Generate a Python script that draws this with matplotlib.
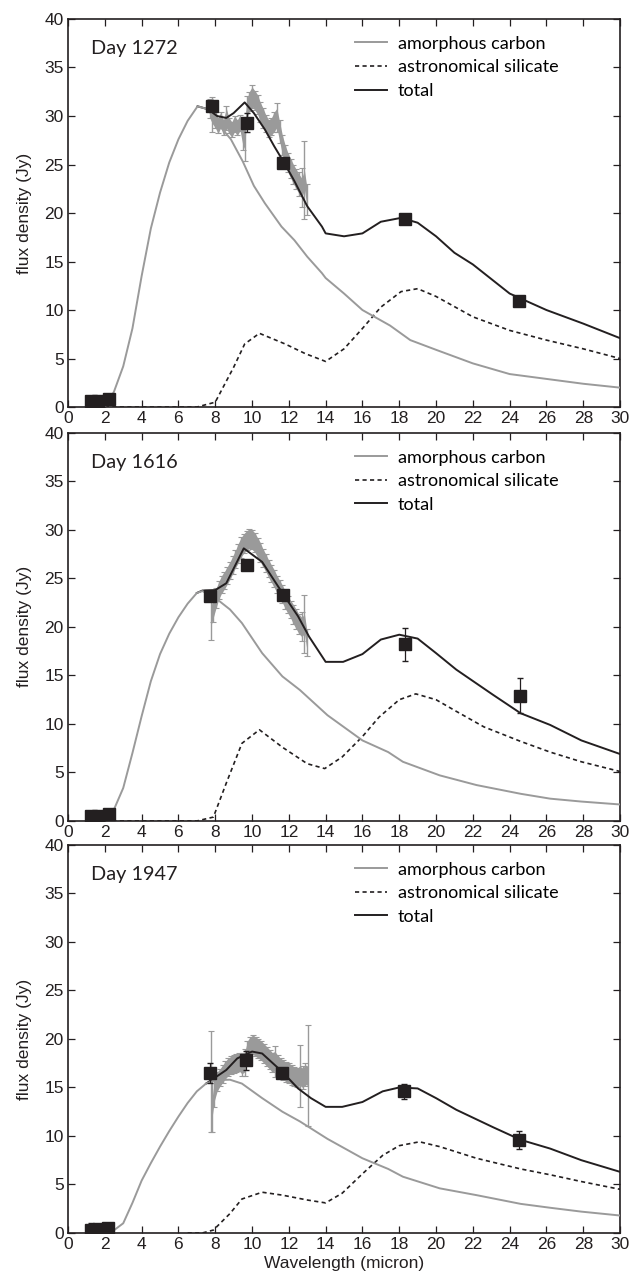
import numpy as np
import matplotlib
matplotlib.use("Agg")
import matplotlib.pyplot as plt

plt.rcParams['font.family'] = ['Liberation Sans', 'DejaVu Sans']

days = ["Day 1272", "Day 1616", "Day 1947"]

# model curves: amorphous carbon
carbon_x = [
    [1.8, 2.1, 2.5, 3.0, 3.5, 4.0, 4.5, 5.0, 5.5, 6.0, 6.5, 7.04, 7.6, 8.1, 8.85, 9.5, 10.1, 10.7, 11.6, 12.3, 13.0, 13.8, 14.0, 15.0, 16.0, 17.5, 18.6, 20.0, 22.0, 24.0, 26.0, 28.0, 30.0],
    [1.8, 2.0, 2.5, 3.0, 3.5, 4.0, 4.5, 5.0, 5.5, 6.0, 6.5, 7.0, 7.3, 7.7, 8.0, 8.8, 9.45, 10.55, 11.65, 12.6, 14.1, 16.0, 17.4, 18.2, 20.2, 22.2, 24.6, 26.2, 27.9, 30.0],
    [2.3, 3.0, 3.5, 4.0, 4.5, 5.0, 5.5, 6.0, 6.5, 7.0, 7.5, 8.0, 8.8, 9.45, 10.55, 11.65, 12.6, 14.1, 16.0, 17.4, 18.2, 20.2, 22.2, 24.6, 26.2, 27.9, 30.0],
]
carbon_y = [
    [0.0, 0.2, 1.6, 4.2, 8.1, 13.5, 18.4, 22.1, 25.2, 27.6, 29.5, 31.0, 30.7, 29.3, 27.6, 25.3, 22.8, 21.0, 18.6, 17.2, 15.5, 13.8, 13.3, 11.7, 10.0, 8.4, 6.9, 5.9, 4.5, 3.4, 2.9, 2.4, 2.0],
    [0.0, 0.1, 1.2, 3.4, 7.0, 10.8, 14.4, 17.2, 19.3, 21.0, 22.4, 23.5, 23.7, 23.3, 23.0, 21.8, 20.4, 17.3, 14.9, 13.5, 10.9, 8.3, 7.1, 6.1, 4.7, 3.7, 2.8, 2.3, 2.0, 1.7],
    [0.0, 1.0, 3.1, 5.4, 7.2, 8.9, 10.5, 12.0, 13.4, 14.6, 15.4, 15.75, 15.8, 15.4, 13.9, 12.5, 11.5, 9.7, 7.7, 6.6, 5.8, 4.6, 3.9, 3.0, 2.6, 2.2, 1.8],
]

# astronomical silicate
silicate_x = [
    [2.0, 7.0, 8.0, 9.0, 9.6, 10.4, 11.8, 12.9, 14.0, 15.0, 16.0, 17.0, 18.1, 19.0, 20.0, 22.0, 24.0, 26.0, 28.0, 30.0],
    [2.0, 7.0, 7.9, 8.6, 9.45, 10.4, 11.65, 13.0, 13.95, 14.9, 16.0, 16.9, 18.0, 18.9, 20.0, 21.1, 22.6, 24.6, 26.2, 27.9, 30.0],
    [6.5, 7.3, 7.9, 8.8, 9.45, 10.55, 11.65, 13.0, 14.0, 14.9, 16.0, 17.1, 18.0, 19.1, 20.2, 22.2, 24.6, 26.2, 27.9, 30.0],
]
silicate_y = [
    [0.0, 0.0, 0.5, 4.1, 6.5, 7.6, 6.5, 5.5, 4.7, 6.0, 8.1, 10.3, 11.9, 12.2, 11.4, 9.3, 7.9, 6.9, 6.0, 5.0],
    [0.0, 0.0, 0.4, 3.9, 8.0, 9.4, 7.6, 5.9, 5.4, 6.6, 8.7, 10.7, 12.5, 13.1, 12.5, 11.3, 9.7, 8.2, 7.1, 6.1, 5.1],
    [0.0, 0.0, 0.3, 2.0, 3.5, 4.2, 3.9, 3.4, 3.1, 4.1, 6.1, 8.0, 9.0, 9.4, 8.9, 7.7, 6.6, 6.0, 5.3, 4.5],
]

# total
total_x = [
    [7.04, 7.6, 8.1, 8.6, 9.0, 9.6, 10.1, 10.7, 11.2, 11.8, 12.3, 13.0, 13.8, 14.0, 15.0, 16.0, 17.0, 18.1, 19.0, 20.0, 21.0, 22.0, 24.0, 26.0, 28.0, 30.0],
    [7.0, 7.3, 8.0, 8.6, 9.55, 10.55, 11.65, 12.5, 13.1, 14.0, 14.95, 16.0, 17.0, 18.0, 19.0, 20.0, 21.1, 23.1, 24.6, 26.2, 27.9, 30.0],
    [7.5, 7.9, 8.6, 9.2, 10.0, 10.55, 11.65, 12.5, 13.2, 14.0, 14.9, 16.0, 17.1, 18.0, 19.0, 20.0, 21.1, 23.1, 24.6, 26.2, 27.9, 30.0],
]
total_y = [
    [31.0, 30.7, 30.0, 29.8, 30.3, 31.4, 30.3, 28.6, 26.9, 25.0, 23.3, 20.7, 18.6, 17.9, 17.6, 17.9, 19.1, 19.5, 19.0, 17.6, 15.9, 14.7, 11.7, 10.0, 8.6, 7.1],
    [23.5, 23.75, 23.8, 24.5, 28.1, 26.7, 23.5, 21.1, 19.0, 16.4, 16.4, 17.2, 18.7, 19.2, 18.8, 17.3, 15.6, 13.0, 11.1, 9.9, 8.3, 6.9],
    [15.4, 15.9, 16.8, 18.0, 18.7, 18.5, 16.6, 14.9, 13.9, 13.0, 13.0, 13.5, 14.6, 15.0, 14.9, 13.9, 12.7, 10.9, 9.6, 8.7, 7.5, 6.3],
]

# photometry (black squares)
phot_x = [
    [1.25, 1.65, 2.2, 7.8, 9.7, 11.7, 18.3, 24.5],
    [1.25, 1.65, 2.2, 7.74, 9.7, 11.7, 18.3, 24.55],
    [1.25, 1.7, 2.15, 7.7, 9.67, 11.65, 18.24, 24.5],
]
phot_y = [
    [0.6, 0.6, 0.8, 31.0, 29.3, 25.2, 19.4, 10.9],
    [0.5, 0.5, 0.7, 23.2, 26.4, 23.3, 18.2, 12.9],
    [0.3, 0.4, 0.5, 16.5, 17.8, 16.5, 14.6, 9.6],
]
phot_err = [
    [0.2, 0.2, 0.2, 0.4, 1.0, 0.4, 0.5, 0.5],
    [0.2, 0.2, 0.2, 0.4, 0.5, 0.4, 1.7, 1.8],
    [0.7, 0.4, 0.4, 1.0, 1.0, 0.4, 0.8, 0.9],
]

# mid-IR spectrum (grey error bars)
spec_x = [
    [7.7, 7.85, 8.0, 8.15, 8.3, 8.45, 8.6, 8.75, 8.9, 9.05, 9.2, 9.35, 9.5, 9.6, 9.7, 9.85, 10.0, 10.15, 10.3, 10.45, 10.6, 10.75, 10.9, 11.05, 11.2, 11.35, 11.5, 11.65, 11.8, 11.95, 12.1, 12.25, 12.4, 12.55, 12.7, 12.85, 13.0],
    [7.75, 7.9, 8.05, 8.2, 8.35, 8.5, 8.65, 8.8, 8.95, 9.1, 9.25, 9.4, 9.55, 9.7, 9.85, 10.0, 10.15, 10.3, 10.45, 10.6, 10.75, 10.9, 11.05, 11.2, 11.35, 11.5, 11.65, 11.8, 11.95, 12.1, 12.25, 12.4, 12.55, 12.7, 12.85, 13.0],
    [7.75, 7.85, 7.95, 8.1, 8.25, 8.4, 8.55, 8.7, 8.85, 9.0, 9.15, 9.3, 9.45, 9.6, 9.75, 9.9, 10.05, 10.2, 10.35, 10.5, 10.65, 10.8, 10.95, 11.1, 11.25, 11.4, 11.55, 11.7, 11.85, 12.0, 12.15, 12.3, 12.45, 12.6, 12.75, 12.9, 13.05],
]
spec_y = [
    [30.8, 30.2, 29.8, 29.0, 29.6, 28.8, 29.8, 29.0, 28.6, 29.2, 28.8, 29.3, 28.0, 27.6, 30.6, 31.5, 32.0, 31.6, 31.2, 30.4, 29.8, 29.2, 28.7, 28.9, 29.4, 29.8, 28.4, 27.0, 26.0, 25.2, 24.6, 24.0, 23.5, 23.0, 22.6, 23.4, 21.4],
    [21.0, 22.0, 23.0, 23.8, 24.4, 24.8, 25.3, 25.8, 26.4, 27.0, 27.6, 28.2, 28.6, 28.9, 29.1, 29.0, 28.7, 28.2, 27.7, 27.1, 26.6, 26.0, 25.5, 25.0, 24.4, 23.9, 23.4, 22.8, 22.3, 21.8, 21.3, 20.8, 20.3, 20.0, 20.3, 18.4],
    [15.6, 13.2, 14.6, 15.6, 16.0, 16.4, 16.8, 17.1, 17.3, 17.4, 17.5, 17.6, 17.4, 17.6, 18.8, 19.2, 19.4, 19.2, 19.0, 18.8, 18.5, 18.2, 17.9, 17.6, 17.7, 17.3, 17.0, 16.8, 16.6, 16.5, 16.3, 16.1, 16.0, 16.2, 16.0, 16.3, 16.2],
]
spec_err = [
    [1.0, 1.8, 1.0, 0.8, 0.8, 0.8, 1.2, 0.8, 0.8, 0.8, 0.8, 0.8, 1.5, 2.2, 1.5, 1.0, 1.2, 1.0, 1.0, 1.0, 1.0, 0.9, 0.9, 0.9, 1.0, 1.5, 1.2, 1.0, 1.0, 1.0, 1.0, 1.0, 1.0, 1.2, 2.0, 4.0, 1.6],
    [2.3, 1.5, 1.0, 0.9, 0.9, 0.9, 0.9, 0.9, 0.9, 0.9, 1.0, 1.1, 1.0, 1.0, 1.0, 1.0, 1.0, 1.0, 1.0, 0.9, 0.9, 0.9, 0.9, 0.9, 0.9, 0.9, 0.9, 0.9, 0.9, 0.9, 1.0, 1.0, 1.0, 1.5, 3.0, 1.4],
    [5.2, 2.8, 1.6, 1.0, 0.9, 0.9, 0.9, 0.9, 0.9, 0.9, 0.9, 0.9, 1.2, 1.4, 1.0, 1.0, 1.0, 1.0, 1.0, 1.0, 1.0, 1.0, 1.0, 1.0, 1.6, 1.0, 1.0, 1.0, 1.0, 1.0, 1.0, 1.0, 1.0, 3.2, 1.2, 1.2, 5.2],
]

ink = '#231f20'
grey = '#9a9a9a'

fig = plt.figure(figsize=(6.34, 12.74), dpi=100)
bottoms = [0.6805, 0.3556, 0.0322]

for i in range(3):
    ax = fig.add_axes([0.1073, bottoms[i], 0.8707, 0.3046])

    sx = np.array(spec_x[i])
    sy = np.array(spec_y[i])
    se = np.array(spec_err[i])
    band = np.minimum(se, 1.0)
    ax.fill_between(sx, sy - band, sy + band, color=grey, lw=0, zorder=1)
    ax.errorbar(sx, sy, yerr=se, fmt='none', ecolor=grey,
                elinewidth=1.0, capsize=2.5, capthick=0.8, zorder=1)

    ax.plot(silicate_x[i], silicate_y[i], color=ink, lw=1.2, dashes=(2.5, 2),
            label='astronomical silicate', zorder=2)
    ax.plot(total_x[i], total_y[i], color=ink, lw=1.4, label='total', zorder=2)
    ax.plot(carbon_x[i], carbon_y[i], color=grey, lw=1.4, label='amorphous carbon', zorder=3)

    ax.errorbar(phot_x[i], phot_y[i], yerr=phot_err[i], fmt='s', color=ink, ms=8,
                ecolor=ink, elinewidth=0.9, capsize=2, zorder=4)

    ax.set_xlim(0, 30)
    ax.set_ylim(0, 40)
    ax.set_xticks(np.arange(0, 31, 2))
    ax.set_yticks(np.arange(0, 41, 5))
    ax.tick_params(direction='in', top=True, right=True, length=5, width=0.9,
                   labelsize=12.5, colors=ink, pad=3)
    for s in ax.spines.values():
        s.set_linewidth(1.2)
        s.set_color(ink)
    ax.set_ylabel('flux density (Jy)', fontsize=12.5, color=ink, labelpad=9)

    ax.text(0.042, 0.923, days[i], transform=ax.transAxes, fontsize=14.3,
            family=['Lato', 'DejaVu Sans'], color=ink, va='center')
    handles, labels = ax.get_legend_handles_labels()
    order = [2, 0, 1]
    ax.legend([handles[k] for k in order], [labels[k] for k in order],
              loc='upper left', bbox_to_anchor=(0.52, 0.957), frameon=False,
              borderpad=0, borderaxespad=0, handlelength=1.75, handletextpad=0.6,
              labelspacing=0.42, prop={'family': ['Lato', 'DejaVu Sans'], 'size': 13})

    if i == 2:
        ax.set_xlabel('Wavelength (micron)', fontsize=12.5, color=ink, labelpad=3)

fig.savefig('out.png', dpi=100)
